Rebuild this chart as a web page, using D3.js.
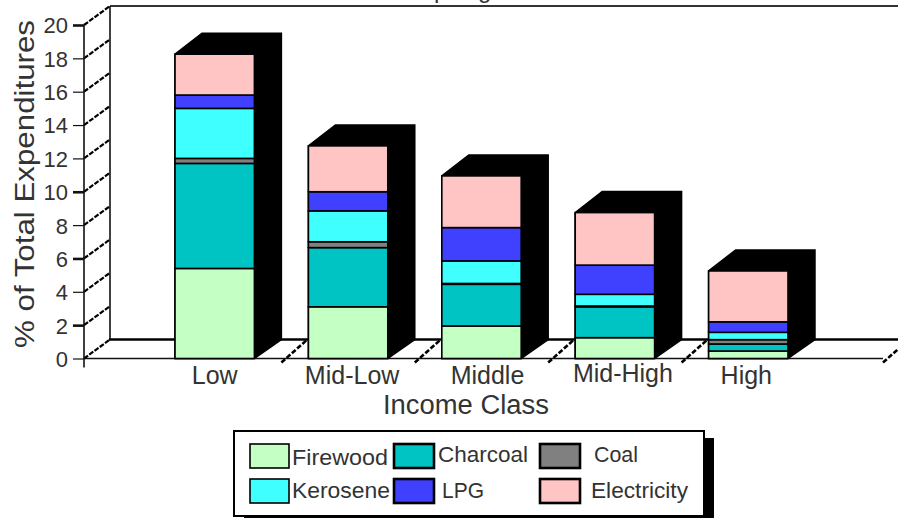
<!DOCTYPE html>
<html>
<head>
<meta charset="utf-8">
<script src="https://cdn.jsdelivr.net/npm/d3@7"></script>
<style>
  html, body { margin: 0; padding: 0; background: #fff; }
  svg { display: block; }
  text { font-family: "Liberation Sans", Arial, sans-serif; fill: #333; }
</style>
</head>
<body>
<svg id="chart" width="898" height="519"></svg>
<script>
// Household fuel spending by income class, drawn as extruded stacked columns.
const incomeClasses = ["Low", "Mid-Low", "Middle", "Mid-High", "High"];
const firewood    = [5.4, 3.1, 1.95, 1.25, 0.45];
const charcoal    = [6.3, 3.55, 2.5, 1.85, 0.42];
const coal        = [0.3, 0.35, 0.05, 0.05, 0.26];
const kerosene    = [3.0, 1.85, 1.35, 0.7, 0.44];
const lpg         = [0.8, 1.15, 2.0, 1.75, 0.63];
const electricity = [2.45, 2.75, 3.1, 3.15, 3.05];
const yTickValues = [0, 2, 4, 6, 8, 10, 12, 14, 16, 18, 20];
const heavyTicks  = [2, 6, 10, 20];
const fuelNames   = ["Firewood", "Charcoal", "Coal", "Kerosene", "LPG", "Electricity"];
const fuelColors  = ["#c4ffc4", "#00c4c4", "#808080", "#40ffff", "#4040ff", "#ffc4c4"];

const fuelValues = [firewood, charcoal, coal, kerosene, lpg, electricity];
const rows = incomeClasses.map((name, i) => {
  const row = { name };
  fuelNames.forEach((f, j) => { row[f] = fuelValues[j][i]; });
  return row;
});
const stacked = d3.stack().keys(fuelNames)(rows);

const svg = d3.select("#chart");
const ink = "#111";

// Plot geometry
const axisX = 84, endX = 883;
const depthX = 26, depthY = -19;
const barDepthX = 27, barDepthY = -21;

const y = d3.scaleLinear().domain([0, 20]).range([358.5, 25]);
const x = d3.scaleBand().domain(incomeClasses).range([148, 815]).paddingInner(0.405).paddingOuter(0.2025);

// Back wall and floor edges
svg.append("line").attr("x1", axisX + depthX).attr("x2", 898)
  .attr("y1", y(20) + depthY).attr("y2", y(20) + depthY)
  .attr("stroke", "#333").attr("stroke-width", 2);
svg.append("line").attr("x1", axisX + depthX).attr("x2", axisX + depthX)
  .attr("y1", y(20) + depthY).attr("y2", y(0) + depthY)
  .attr("stroke", ink).attr("stroke-width", 1.6);
svg.append("line").attr("x1", axisX + depthX - 1).attr("x2", 898)
  .attr("y1", y(0) + depthY).attr("y2", y(0) + depthY)
  .attr("stroke", "#000").attr("stroke-width", 2.4);
svg.append("line").attr("x1", axisX).attr("x2", endX)
  .attr("y1", y(0)).attr("y2", y(0))
  .attr("stroke", ink).attr("stroke-width", 1.6);

// Stepped diagonals running from each value tick back to the wall
svg.append("g").selectAll("line").data(yTickValues).join("line")
  .attr("x1", axisX).attr("y1", d => y(d))
  .attr("x2", axisX + depthX).attr("y2", d => y(d) + depthY)
  .attr("stroke", "#000").attr("stroke-width", 2.2)
  .attr("stroke-dasharray", "5 1.5");

// Floor dividers between income classes, plus the far end of the axis
const dividers = incomeClasses.slice(1).map(c => x(c) - x.step() * 0.2025)
  .concat([endX]);
svg.append("g").selectAll("line").data(dividers).join("line")
  .attr("x1", d => d).attr("y1", y(0) + 4)
  .attr("x2", d => d + depthX).attr("y2", y(0) + depthY)
  .attr("stroke", "#000").attr("stroke-width", 2.6)
  .attr("stroke-dasharray", "5 2");

// Extruded black body behind every column
const tops = incomeClasses.map((c, i) => y(d3.sum(fuelValues, s => s[i])));
svg.append("g").selectAll("path").data(incomeClasses).join("path")
  .attr("fill", "#000").attr("stroke", "#000").attr("stroke-width", 1.5)
  .attr("d", (c, i) => {
    const l = x(c), r = l + x.bandwidth(), t = tops[i], b = y(0);
    return d3.line()([
      [l, t], [l + barDepthX, t + barDepthY], [r + barDepthX, t + barDepthY],
      [r + barDepthX, b + depthY], [r, b], [l, b]
    ]) + "Z";
  });

// Stacked column faces
svg.append("g").selectAll("g").data(stacked).join("g")
  .attr("fill", (s, i) => fuelColors[i])
  .selectAll("rect").data(s => s).join("rect")
  .attr("x", d => x(d.data.name))
  .attr("width", x.bandwidth())
  .attr("y", d => y(d[1]))
  .attr("height", d => Math.max(0, y(d[0]) - y(d[1])))
  .attr("stroke", "#000").attr("stroke-width", 1.6);

// Value axis
const yAxis = svg.append("g").attr("transform", `translate(${axisX},0)`)
  .call(d3.axisLeft(y).tickValues(yTickValues).tickSize(11).tickSizeOuter(0).tickPadding(5));
yAxis.select(".domain").remove();
svg.append("line").attr("x1", axisX).attr("x2", axisX)
  .attr("y1", y(20)).attr("y2", y(0) + 9)
  .attr("stroke", ink).attr("stroke-width", 1.6);
yAxis.selectAll(".tick line")
  .attr("stroke", ink)
  .attr("stroke-width", d => heavyTicks.includes(d) ? 2.6 : 1.2);
yAxis.selectAll(".tick text")
  .attr("font-size", 22).attr("fill", "#333").attr("dy", "0.36em");

// Category labels
const labelNudge = [0, 4, 6, 8, -2];
const xAxis = svg.append("g").attr("transform", `translate(0,${y(0)})`)
  .call(d3.axisBottom(x).tickSize(0).tickPadding(8));
xAxis.select(".domain").remove();
xAxis.selectAll(".tick text")
  .attr("font-size", 25).attr("fill", "#333")
  .attr("dx", (d, i) => labelNudge[i])
  .attr("dy", d => d === "Mid-High" ? "0.6em" : "0.71em");

// Axis titles
svg.append("text").attr("x", 466).attr("y", 414).attr("text-anchor", "middle")
  .attr("font-size", 27).attr("textLength", 166).attr("lengthAdjust", "spacingAndGlyphs")
  .text("Income Class");
svg.append("text").attr("transform", "translate(34,184) rotate(-90)")
  .attr("text-anchor", "middle").attr("font-size", 27)
  .attr("textLength", 328).attr("lengthAdjust", "spacingAndGlyphs")
  .text("% of Total Expenditures");

// Chart heading: only the descenders fall inside the frame
svg.append("text").attr("x", 434).attr("y", -2).attr("font-size", 24).text("p");
svg.append("text").attr("x", 478).attr("y", -2).attr("font-size", 24).text("g");

// Legend
const legend = svg.append("g");
legend.append("rect").attr("x", 244).attr("y", 438).attr("width", 470).attr("height", 80).attr("fill", "#000");
legend.append("rect").attr("x", 234).attr("y", 431).attr("width", 470).attr("height", 85)
  .attr("fill", "#fff").attr("stroke", "#000").attr("stroke-width", 2);

const legendColumn = d3.scalePoint().domain([0, 1, 2]).range([250, 540]);
const legendRow = d3.scalePoint().domain([0, 1]).range([444, 479]);
const legendRowOf = [0, 0, 0, 1, 1, 1];
const legendColOf = [0, 1, 2, 0, 1, 2];
const legendTextGap = [42, 43, 54, 42, 47, 51];
const legendTextWidth = [96, 90, 44, 98, 42, 97];
const legendItems = legend.selectAll("g").data(fuelNames).join("g")
  .attr("transform", (d, i) => `translate(${legendColumn(legendColOf[i])},${legendRow(legendRowOf[i])})`);
legendItems.append("rect")
  .attr("width", (d, i) => legendColOf[i] === 0 ? 39 : 40)
  .attr("height", 24)
  .attr("x", (d, i) => legendColOf[i] === 1 ? -1 : 0)
  .attr("fill", (d, i) => fuelColors[i])
  .attr("stroke", "#000").attr("stroke-width", (d, i) => legendColOf[i] === 0 ? 1.6 : 2.6);
legendItems.append("text")
  .attr("x", (d, i) => legendTextGap[i])
  .attr("y", (d, i) => legendRowOf[i] === 0 ? (legendColOf[i] === 0 ? 21 : 18) : 19)
  .attr("font-size", 22)
  .attr("textLength", (d, i) => legendTextWidth[i])
  .attr("lengthAdjust", "spacingAndGlyphs")
  .text(d => d);
</script>
</body>
</html>
